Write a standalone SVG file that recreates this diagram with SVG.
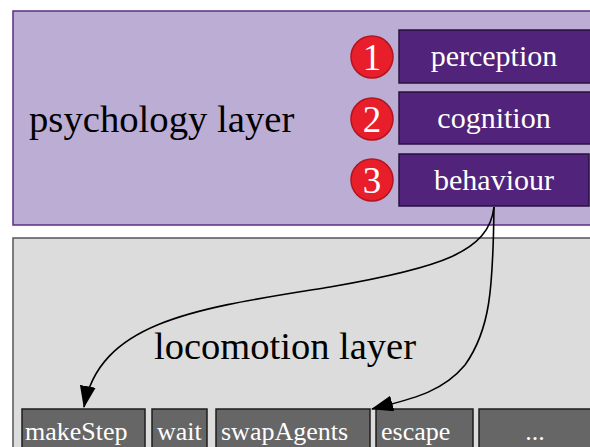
<svg xmlns="http://www.w3.org/2000/svg" width="590" height="447" viewBox="0 0 590 447">
<defs>
<style>
.pnode{fill:#51237b;stroke:#2a1040;stroke-width:1.5}
.num{fill:#e81e2a;stroke:#b0161e;stroke-width:1.5}
.lnode{fill:#666;stroke:#1e1e1e;stroke-width:1.5}
.edge{fill:none;stroke:#000;stroke-width:1.6}
</style>
<marker id="ah" markerWidth="22" markerHeight="16" refX="21" refY="8" orient="auto" markerUnits="userSpaceOnUse" viewBox="0 0 22 16">
<path d="M0,0 L22,8 L0,16 z" fill="#000"/>
</marker>
</defs>
<rect width="590" height="447" fill="#fff"/>
<g id="psychology-layer">
<rect x="13" y="11" width="590" height="214" fill="#bcadd5" stroke="#5b2c86" stroke-width="1.5"/>
<text x="29" y="132" font-family="'Liberation Serif', serif" font-size="38.7" fill="#000">psychology layer</text>
</g>
<g id="locomotion-layer">
<rect x="13" y="238" width="590" height="230" fill="#dcdcdc" stroke="#555" stroke-width="1.5"/>
<text x="285" y="359" font-family="'Liberation Serif', serif" font-size="38.5" fill="#000" text-anchor="middle">locomotion layer</text>
</g>
<g id="perception">
<rect class="pnode" x="399" y="30" width="200" height="53"/>
<text x="494" y="66" font-family="'Liberation Serif', serif" font-size="30" fill="#fff" text-anchor="middle">perception</text>
</g>
<g id="cognition">
<rect class="pnode" x="399" y="92" width="200" height="52"/>
<text x="494" y="128" font-family="'Liberation Serif', serif" font-size="30" fill="#fff" text-anchor="middle">cognition</text>
</g>
<g id="behaviour">
<rect class="pnode" x="399" y="154" width="190" height="52"/>
<text x="494" y="190" font-family="'Liberation Serif', serif" font-size="30" fill="#fff" text-anchor="middle">behaviour</text>
</g>
<g id="num1"><circle class="num" cx="372" cy="57" r="21"/><text x="372" y="70" font-family="'Liberation Serif', serif" font-size="37" fill="#fff" text-anchor="middle">1</text></g>
<g id="num2"><circle class="num" cx="372" cy="119" r="21"/><text x="372" y="132" font-family="'Liberation Serif', serif" font-size="37" fill="#fff" text-anchor="middle">2</text></g>
<g id="num3"><circle class="num" cx="372" cy="180" r="21"/><text x="372" y="193" font-family="'Liberation Serif', serif" font-size="37" fill="#fff" text-anchor="middle">3</text></g>
<g id="makeStep"><rect class="lnode" x="22" y="409" width="123" height="50"/><text x="25" y="440" font-family="'Liberation Serif', serif" font-size="26" fill="#fff">makeStep</text></g>
<g id="wait"><rect class="lnode" x="152" y="409" width="55" height="50"/><text x="157" y="440" font-family="'Liberation Serif', serif" font-size="26" fill="#fff">wait</text></g>
<g id="swapAgents"><rect class="lnode" x="216" y="409" width="154" height="50"/><text x="221" y="440" font-family="'Liberation Serif', serif" font-size="26" fill="#fff">swapAgents</text></g>
<g id="escape"><rect class="lnode" x="376" y="409" width="97" height="50"/><text x="381" y="440" font-family="'Liberation Serif', serif" font-size="26" fill="#fff">escape</text></g>
<g id="more"><rect class="lnode" x="479" y="409" width="130" height="50"/><text x="535" y="440" font-family="'Liberation Serif', serif" font-size="26" fill="#fff" text-anchor="middle">...</text></g>
<g id="connectors">
<path class="edge" marker-end="url(#ah)" d="M494,207 C489,252 440,268 330,287 C200,308 100,320 84,407"/>
<path class="edge" marker-end="url(#ah)" d="M494,207 C493,290 490,330 465,365 C440,395 405,400 372,409"/>
</g>
</svg>
